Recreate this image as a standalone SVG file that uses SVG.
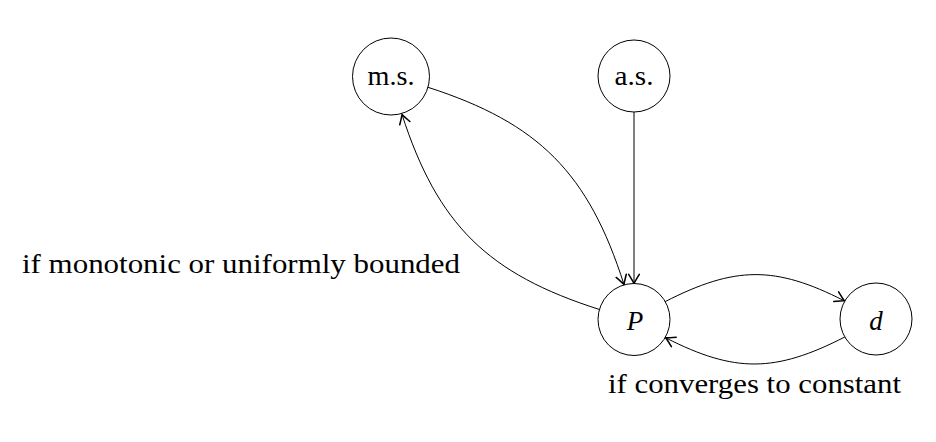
<svg xmlns="http://www.w3.org/2000/svg" width="936" height="442" viewBox="0 0 936 442">
<style>
.node circle{fill:#fff;stroke:#000;stroke-width:1}
.t{font-family:"Liberation Serif","Times New Roman",Times,serif;font-size:27px;fill:#000}
.it{font-style:italic}
.edge{fill:none;stroke:#000;stroke-width:1;marker-end:url(#arr)}
</style>
<defs>
<marker id="arr" markerUnits="userSpaceOnUse" markerWidth="14" markerHeight="14" viewBox="-8 -5 10 10" refX="0" refY="0" orient="auto">
<path d="M-6.5,-3.8 Q-2,-1 0,0 Q-2,1 -6.5,3.8" fill="none" stroke="#000" stroke-width="1.1" stroke-linecap="round"/>
</marker>
</defs>
<rect width="936" height="442" fill="#fff"/>
<g id="connectors">
<path class="edge" d="M428,87.3 C539.1,123.1 588.4,173 624,284.5"/>
<path class="edge" d="M634,112 L634,283.5"/>
<path class="edge" d="M599.5,309.5 C487.5,273.9 437.6,224.6 402,114.5"/>
<path class="edge" d="M665.2,301.6 C734.9,266 775.1,265.5 844.3,300.8"/>
<path class="edge" d="M844.8,337 C775.1,372.6 734.9,373.1 665.7,337.8"/>
</g>
<g id="node-ms" class="node">
<circle cx="391" cy="76.5" r="38.5"/>
<text class="t" x="391" y="84.5" text-anchor="middle" textLength="47" lengthAdjust="spacingAndGlyphs">m.s.</text>
</g>
<g id="node-as" class="node">
<circle cx="634" cy="76" r="36"/>
<text class="t" x="634" y="84.5" text-anchor="middle" textLength="39" lengthAdjust="spacingAndGlyphs">a.s.</text>
</g>
<g id="node-P" class="node">
<circle cx="634" cy="319.5" r="36"/>
<text class="t it" x="635" y="330" text-anchor="middle">P</text>
</g>
<g id="node-d" class="node">
<circle cx="876" cy="319" r="36"/>
<text class="t it" x="876" y="330" text-anchor="middle">d</text>
</g>
<g id="labels">
<text class="t" x="22" y="272.5" textLength="438" lengthAdjust="spacingAndGlyphs">if monotonic or uniformly bounded</text>
<text class="t" x="608" y="392.5" textLength="293" lengthAdjust="spacingAndGlyphs">if converges to constant</text>
</g>
</svg>
